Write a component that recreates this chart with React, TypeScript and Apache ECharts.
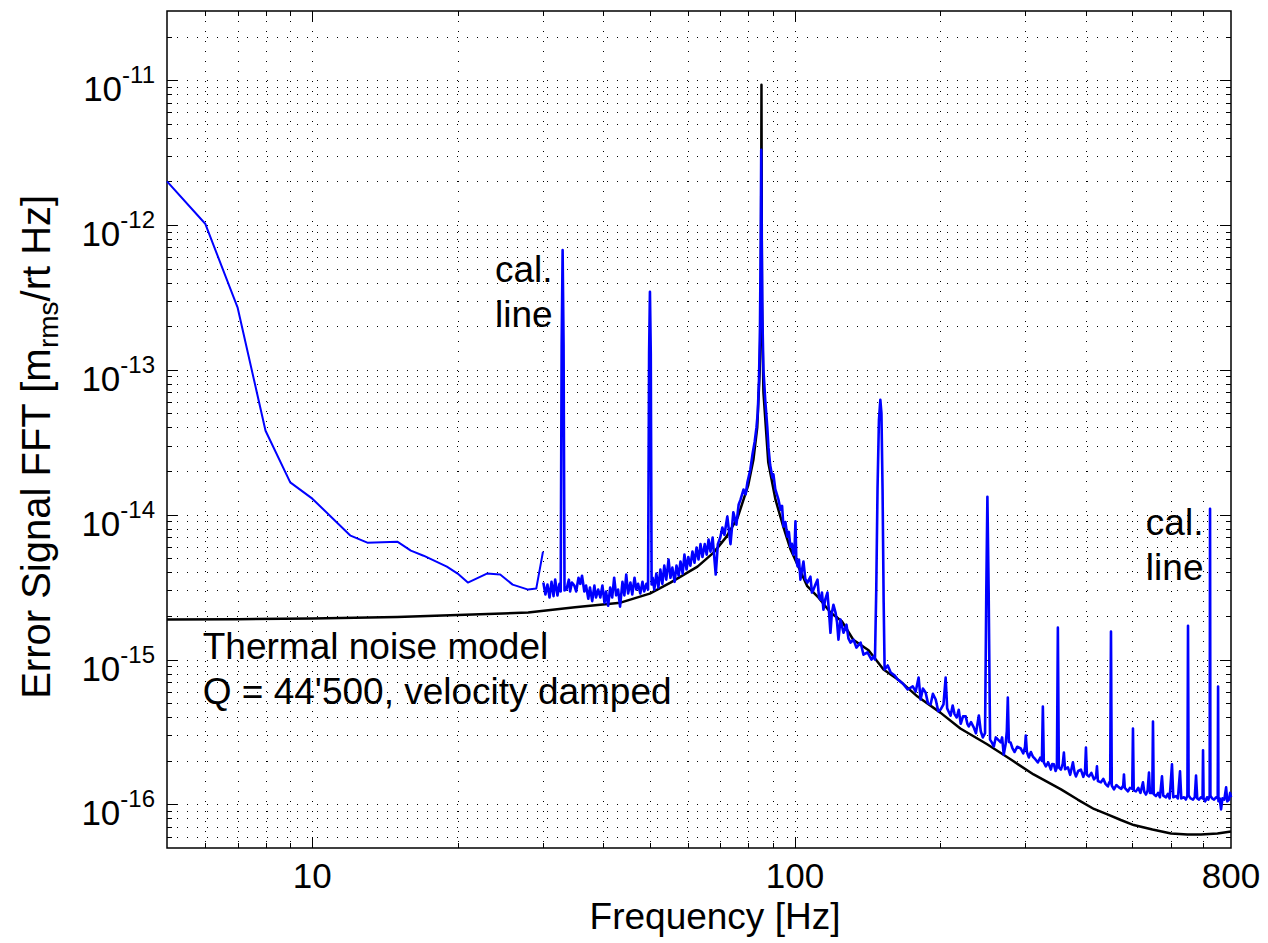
import React, { useEffect, useRef } from "react";
import * as echarts from "echarts";

// ---------- axis ranges & ticks ----------
const X_MIN = 5;
const X_MAX = 800;
const Y_MIN = 5e-17;
const Y_MAX = 3e-11;
// internal plotting unit (fm/rtHz) so that log-axis ticks keep their precision
const Y_UNIT = 1e15;

const xTickLabels = [10, 100, 800];
const gridX = [6, 7, 8, 9, 10, 20, 30, 40, 50, 60, 70, 80, 90, 100, 200, 300, 400, 500, 600, 700];
const majorX = [10, 100];
const gridY = [
  6e-17, 7e-17, 8e-17, 9e-17,
  1e-16, 2e-16, 3e-16, 4e-16, 5e-16, 6e-16, 7e-16, 8e-16, 9e-16,
  1e-15, 2e-15, 3e-15, 4e-15, 5e-15, 6e-15, 7e-15, 8e-15, 9e-15,
  1e-14, 2e-14, 3e-14, 4e-14, 5e-14, 6e-14, 7e-14, 8e-14, 9e-14,
  1e-13, 2e-13, 3e-13, 4e-13, 5e-13, 6e-13, 7e-13, 8e-13, 9e-13,
  1e-12, 2e-12, 3e-12, 4e-12, 5e-12, 6e-12, 7e-12, 8e-12, 9e-12,
  1e-11, 2e-11,
];
const majorY = [1e-16, 1e-15, 1e-14, 1e-13, 1e-12, 1e-11];

// ---------- measured data: [frequency Hz, amplitude m_rms/rtHz] ----------
const blueLowRes: [number, number][] = [
  [5, 2.0e-12], [6, 1.02e-12], [7, 2.7e-13], [8, 3.8e-14], [9, 1.67e-14],
  [10, 1.29e-14], [12, 7.16e-15], [13, 6.41e-15], [15, 6.51e-15], [16, 5.65e-15],
  [17, 5.21e-15], [19, 4.38e-15], [20, 3.92e-15], [21, 3.4e-15], [23, 3.92e-15],
  [24.5, 3.86e-15], [26, 3.29e-15], [28, 3.04e-15], [29.1, 3.09e-15], [30.05, 5.56e-15],
];

const blueHiResA: [number, number][] = [
  [30.1, 3.4e-15], [30.4, 2.81e-15], [30.7, 3.29e-15], [31.0, 2.68e-15], [31.3, 3.44e-15],
  [31.6, 2.74e-15], [31.85, 3.56e-15], [32.2, 2.77e-15], [32.5, 3.33e-15], [32.7, 2.95e-15],
  [32.85, 1.5e-13], [33.0, 6.7e-13], [33.15, 1.5e-13], [33.3, 3.0e-15], [33.6, 3.04e-15],
  [34.0, 3.56e-15], [34.2, 2.95e-15], [34.5, 3.4e-15], [34.9, 3.24e-15], [35.2, 2.95e-15],
  [35.6, 3.67e-15], [35.9, 3.33e-15], [36.2, 3.79e-15], [36.6, 2.95e-15], [36.9, 3.24e-15],
  [37.3, 2.63e-15], [37.6, 3.14e-15], [38.0, 2.53e-15], [38.4, 3.24e-15], [38.7, 2.68e-15],
  [39.1, 3.04e-15], [39.5, 2.68e-15], [39.9, 3.24e-15], [40.3, 2.46e-15], [40.6, 2.95e-15],
  [41.0, 2.35e-15], [41.4, 3.14e-15], [41.8, 2.68e-15], [42.2, 3.67e-15], [42.6, 2.77e-15],
  [43.0, 3.04e-15], [43.4, 2.32e-15], [43.9, 3.44e-15], [44.3, 2.77e-15], [44.7, 3.86e-15],
  [45.1, 2.86e-15], [45.6, 3.4e-15], [46.0, 2.81e-15], [46.5, 3.67e-15], [46.9, 3.04e-15],
  [47.3, 3.33e-15], [47.8, 2.86e-15], [48.3, 3.44e-15], [48.7, 2.95e-15], [49.2, 3.33e-15],
  [49.6, 3.04e-15], [49.85, 1.3e-13], [50.05, 3.46e-13], [50.25, 1.3e-13], [50.45, 3.3e-15],
  [50.7, 3.67e-15], [51.1, 3.04e-15], [51.6, 3.92e-15], [52.1, 3.14e-15], [52.6, 4.18e-15],
  [53.1, 3.33e-15], [53.6, 4.45e-15], [54.1, 3.56e-15], [54.7, 4.9e-15], [55.2, 3.67e-15],
  [55.7, 4.31e-15], [56.3, 3.44e-15], [56.8, 4.45e-15], [57.4, 3.79e-15], [57.9, 4.75e-15],
  [58.5, 3.92e-15], [59.0, 5.3e-15], [59.6, 4.18e-15], [60.1, 5.1e-15], [60.7, 4.45e-15],
  [61.3, 5.56e-15], [61.9, 4.66e-15], [62.5, 5.93e-15], [63.1, 4.9e-15], [63.7, 6.26e-15],
  [64.3, 5.1e-15], [65.0, 6.26e-15], [65.6, 5.3e-15], [66.2, 6.73e-15], [66.8, 5.56e-15],
  [67.5, 6.95e-15], [68.5, 3.86e-15], [69.2, 6.26e-15], [70.0, 6.95e-15], [70.7, 8.15e-15],
  [71.4, 7.26e-15], [72.4, 9.71e-15], [73.5, 6.26e-15], [74.5, 1.04e-14], [75.6, 8.53e-15],
  [76.4, 1.17e-14], [77.1, 1.27e-14], [78.2, 1.49e-14], [79.0, 1.38e-14], [79.7, 1.68e-14],
  [80.8, 2.05e-14], [81.6, 2.59e-14], [82.5, 3.2e-14], [83.2, 4.0e-14], [83.7, 5.05e-14],
  [84.2, 8.5e-14], [84.6, 2.0e-13], [84.9, 8.0e-13], [85.1, 3.3e-12],
];

const blueHiResB: [number, number][] = [
  [85.3, 8.0e-13], [85.6, 2.2e-13], [86.0, 1.0e-13], [86.8, 6.0e-14], [87.6, 4.0e-14],
  [88.1, 2.9e-14], [88.8, 2.2e-14], [89.8, 1.8e-14], [90.2, 1.9e-14], [91.0, 1.5e-14],
  [92.4, 1.27e-14], [93.3, 1.08e-14], [94.0, 1.15e-14], [94.6, 8.3e-15], [95.5, 8.9e-15],
  [96.4, 7.05e-15], [97.1, 7.6e-15], [97.8, 6.0e-15], [98.5, 6.3e-15], [99.2, 5.3e-15],
  [99.8, 6.0e-15], [100.2, 9.0e-15], [100.6, 4.9e-15], [101.2, 4.4e-15], [101.9, 4.9e-15],
  [102.6, 3.56e-15], [103.3, 4.1e-15], [104.1, 4.75e-15], [105.0, 3.6e-15], [106.1, 3.4e-15],
  [107.6, 3.73e-15], [108.4, 2.9e-15], [109.2, 3.04e-15], [110.2, 3.3e-15], [111.3, 3.56e-15],
  [112.1, 2.7e-15], [112.9, 2.59e-15], [113.7, 2.9e-15], [114.5, 2.21e-15], [115.5, 2.6e-15],
  [116.7, 2.9e-15], [117.5, 2.2e-15], [118.4, 1.53e-15], [119.2, 2.1e-15], [120.1, 2.39e-15],
  [121.3, 2.11e-15], [122.2, 1.8e-15], [123.0, 1.37e-15], [124.2, 1.89e-15], [126.0, 1.53e-15],
  [127.8, 1.74e-15], [129.0, 1.4e-15], [130.3, 1.31e-15], [132.2, 1.37e-15], [134.0, 1.21e-15],
  [136.7, 1.31e-15], [138.6, 1.08e-15], [141.3, 1.12e-15], [144.0, 1.0e-15], [145.4, 1.05e-15],
  [146.4, 1.0e-15], [147.3, 3.0e-15], [148.2, 1.5e-14], [149.2, 4.5e-14], [150.2, 6.2e-14],
  [151.0, 5.0e-14], [151.8, 1.5e-14], [152.6, 2.5e-15], [153.3, 8.53e-16], [155.6, 9.1e-16],
  [157.8, 8.13e-16], [160.9, 7.76e-16], [163.2, 7.28e-16], [167.2, 6.83e-16], [171.1, 6.21e-16],
  [175.3, 6.52e-16], [177.8, 6.01e-16], [180.3, 7.51e-16],
];

const blueHiResC: [number, number][] = [
  [182.0, 5.3e-16], [184.0, 6.3e-16], [186.4, 5.92e-16], [188.5, 5.0e-16], [190.9, 4.9e-16],
  [193.0, 5.8e-16], [195.6, 5.3e-16], [198.0, 4.4e-16], [200.3, 4.52e-16], [203.0, 4.9e-16],
  [205.1, 7.51e-16], [206.6, 4.6e-16], [208.0, 4.38e-16], [210.0, 4.1e-16], [212.1, 4.81e-16],
  [214.0, 4.2e-16], [216.2, 3.98e-16], [218.3, 4.5e-16], [220.4, 3.6e-16], [222.8, 4.05e-16],
  [225.7, 4.05e-16], [227.5, 3.6e-16], [229.0, 3.45e-16], [231.5, 3.7e-16], [234.5, 3.4e-16],
  [237.0, 3.1e-16], [240.3, 4.11e-16], [242.5, 3.2e-16], [244.9, 2.9e-16], [247.5, 3.1e-16],
  [249.0, 3.0e-15], [250.3, 1.33e-14], [251.8, 3.0e-15], [253.5, 2.8e-16], [255.6, 2.68e-16],
  [258.1, 2.51e-16], [260.5, 2.9e-16], [263.0, 2.81e-16], [266.8, 2.68e-16], [268.5, 2.9e-16],
  [270.6, 2.21e-16], [273.0, 2.6e-16], [274.6, 3.2e-16], [275.9, 5.47e-16], [277.3, 2.7e-16],
  [279.5, 2.68e-16], [282.0, 2.45e-16], [285.0, 2.3e-16], [288.5, 2.5e-16], [293.5, 2.43e-16],
  [297.0, 2.25e-16], [299.5, 2.5e-16], [300.6, 2.99e-16], [302.2, 2.3e-16], [305.0, 2.11e-16],
  [308.0, 2.3e-16], [310.9, 2.14e-16], [314.5, 2.05e-16], [318.4, 1.95e-16], [322.0, 2.1e-16],
  [324.6, 2.0e-16], [326.1, 4.74e-16], [327.6, 1.95e-16], [330.8, 1.83e-16], [334.5, 1.95e-16],
  [338.8, 1.74e-16], [341.0, 1.9e-16], [343.7, 1.89e-16], [346.5, 1.7e-16], [348.7, 1.8e-16],
  [350.3, 1.66e-15], [351.9, 1.8e-16], [355.4, 1.74e-16], [358.5, 1.9e-16], [360.5, 2.28e-16],
  [362.5, 1.75e-16], [367.5, 1.8e-16], [371.5, 1.6e-16], [376.4, 1.95e-16], [379.5, 1.65e-16],
  [381.8, 1.56e-16], [386.0, 1.7e-16], [391.0, 1.74e-16], [395.5, 1.55e-16], [398.8, 1.7e-16],
  [400.5, 2.47e-16], [402.3, 1.6e-16], [406.3, 1.56e-16], [411.0, 1.65e-16], [416.1, 1.49e-16],
  [420.3, 1.55e-16], [422.1, 1.83e-16], [424.0, 1.45e-16], [430.2, 1.42e-16], [435.0, 1.5e-16],
  [440.0, 1.38e-16], [444.8, 1.33e-16], [447.5, 1.42e-16], [449.6, 1.4e-16], [451.3, 1.56e-15],
  [453.0, 1.35e-16], [457.8, 1.27e-16], [463.0, 1.36e-16], [468.8, 1.31e-16], [474.0, 1.28e-16],
  [478.4, 1.35e-16], [480.1, 1.61e-16], [482.0, 1.3e-16], [489.4, 1.23e-16], [494.0, 1.3e-16],
  [499.5, 1.28e-16], [501.2, 3.34e-16], [503.0, 1.25e-16], [508.4, 1.23e-16], [514.0, 1.3e-16],
  [519.5, 1.2e-16], [525.7, 1.42e-16], [529.0, 1.22e-16], [533.3, 1.17e-16], [537.5, 1.25e-16],
  [541.0, 1.66e-16], [543.5, 1.2e-16], [549.6, 1.2e-16], [551.4, 3.73e-16], [553.3, 1.18e-16],
  [559.3, 1.14e-16], [565.0, 1.2e-16], [570.0, 1.12e-16], [575.6, 1.56e-16], [579.0, 1.15e-16],
  [586.7, 1.12e-16], [592.0, 1.18e-16], [597.0, 1.1e-16], [603.7, 1.89e-16], [607.5, 1.12e-16],
  [615.4, 1.14e-16], [621.0, 1.1e-16], [627.3, 1.69e-16], [631.0, 1.1e-16], [639.4, 1.12e-16],
  [645.0, 1.08e-16], [649.8, 1.15e-16], [651.7, 1.71e-15], [653.6, 1.15e-16], [660.0, 1.1e-16],
  [667.5, 1.08e-16], [673.0, 1.12e-16], [677.1, 1.58e-16], [681.0, 1.1e-16], [686.9, 1.08e-16],
  [693.0, 1.12e-16], [698.5, 1.1e-16], [700.1, 2.36e-16], [702.0, 1.1e-16], [707.5, 1.05e-16],
  [713.6, 1.12e-16], [718.0, 1.08e-16], [722.6, 1.15e-16], [723.9, 1.1e-14], [725.2, 1.15e-16],
  [731.0, 1.1e-16], [737.9, 1.08e-16], [745.0, 1.12e-16], [750.9, 1.1e-16], [752.2, 6.52e-16],
  [753.5, 1.05e-16], [758.0, 1.1e-16], [762.9, 9.24e-17], [768.0, 1.1e-16], [775.0, 1.08e-16],
  [781.5, 1.31e-16], [786.0, 1.05e-16], [792.8, 1.08e-16], [796.5, 1.2e-16], [800, 1.12e-16],
];

// thermal noise model (black)
const thermalModel: [number, number][] = [
  [5, 1.89e-15], [7, 1.9e-15], [10, 1.92e-15], [15, 1.97e-15], [20, 2.03e-15],
  [28, 2.11e-15], [35, 2.3e-15], [43.5, 2.47e-15], [50, 2.85e-15], [55.2, 3.4e-15],
  [62.8, 4.38e-15], [67.8, 5.47e-15], [72, 7.0e-15], [76, 9.5e-15], [80, 1.6e-14],
  [82, 2.4e-14], [83.5, 4.0e-14], [84.5, 1.0e-13], [85, 3.0e-13], [85.2, 9.3e-12],
  [85.4, 3.0e-13], [86, 7.0e-14], [88, 2.3e-14], [91.1, 1.27e-14], [94.6, 8.2e-15],
  [97.9, 5.74e-15], [106, 3.21e-15], [112, 2.66e-15], [118.4, 2.11e-15], [125, 1.84e-15],
  [132, 1.37e-15], [142, 1.16e-15], [152.5, 8.53e-16], [165, 7.1e-16], [179.4, 5.55e-16],
  [200, 4.3e-16], [220, 3.34e-16], [250, 2.6e-16], [280, 2.04e-16], [312, 1.61e-16],
  [355.6, 1.27e-16], [385, 1.08e-16], [416, 9.3e-17], [445, 8.5e-17], [473, 7.8e-17],
  [503, 7.2e-17], [550, 6.7e-17], [601, 6.3e-17], [650, 6.2e-17], [693, 6.2e-17],
  [750, 6.3e-17], [800, 6.5e-17],
];

// annotations: text anchored (top-left) at a data position
const annotationText = ["cal.\nline", "cal.\nline", "Thermal noise model\nQ = 44'500, velocity damped"];
const annotationFreq = [23.9, 533, 5.93];
const annotationAmp = [7.0e-13, 1.26e-14, 1.75e-15];

const FONT = "'Liberation Sans', Arial, Helvetica, sans-serif";

const toPlot = (pts: [number, number][]) => pts.map(([f, a]) => [f, a * Y_UNIT]);
const isIn = (list: number[], v: number) => list.some((m) => Math.abs(m - v) / m < 1e-6);

export default function App() {
  const ref = useRef<HTMLDivElement>(null);

  useEffect(() => {
    if (!ref.current) return;
    const chart = echarts.init(ref.current, null, { renderer: "svg" });

    const option: any = {
      animation: false,
      backgroundColor: "#fff",
      textStyle: { fontFamily: FONT, color: "#000" },
      grid: {
        left: 167,
        right: 37,
        top: 11,
        bottom: 95,
        show: true,
        borderColor: "#000",
        borderWidth: 1.5,
        backgroundColor: "transparent",
      },
      xAxis: {
        type: "log",
        logBase: 10,
        min: X_MIN,
        max: X_MAX,
        axisLine: { show: false },
        axisTick: { show: false },
        splitLine: { show: false },
        axisLabel: {
          showMinLabel: false,
          showMaxLabel: true,
          margin: 10,
          fontSize: 35,
          color: "#000",
          fontFamily: FONT,
          formatter: (v: number) => (isIn(xTickLabels, v) ? String(Math.round(v)) : ""),
        },
        name: "Frequency [Hz]",
        nameLocation: "middle",
        nameGap: 45,
        nameTextStyle: { fontSize: 37, color: "#000", fontFamily: FONT, padding: [0, 0, 0, 32] },
      },
      yAxis: {
        type: "log",
        logBase: 10,
        min: Y_MIN * Y_UNIT,
        max: Y_MAX * Y_UNIT,
        axisLine: { show: false },
        axisTick: { show: false },
        splitLine: { show: false },
        axisLabel: {
          showMinLabel: false,
          showMaxLabel: false,
          margin: 12,
          color: "#000",
          fontFamily: FONT,
          formatter: (v: number) => {
            const l = Math.log10(v);
            const e = Math.round(l);
            if (Math.abs(l - e) > 1e-6) return "";
            return "{b|10}{s|" + (e - 15) + "}";
          },
          rich: {
            b: { fontSize: 35, lineHeight: 35, padding: [17, 0, 0, 0], color: "#000", fontFamily: FONT },
            s: { fontSize: 24, lineHeight: 24, verticalAlign: "top", color: "#000", fontFamily: FONT },
          },
        },
        name: "{a|Error Signal FFT [m}{s|rms}{a|/rt Hz]}",
        nameLocation: "middle",
        nameRotate: 90,
        nameGap: 103,
        nameTextStyle: {
          color: "#000",
          fontFamily: FONT,
          padding: [0, 35, 0, 0],
          rich: {
            a: { fontSize: 40, lineHeight: 56, color: "#000", fontFamily: FONT },
            s: { fontSize: 28, lineHeight: 28, verticalAlign: "top", padding: [26, 0, 0, 0], color: "#000", fontFamily: FONT },
          },
        },
      },
      series: [
        {
          type: "custom",
          name: "gridX",
          z: 1,
          silent: true,
          clip: false,
          data: gridX.map((v) => [v, Y_MIN * Y_UNIT]),
          encode: { x: 0, y: 1 },
          renderItem: (params: any, api: any) => {
            const val = api.value(0);
            const pt = api.coord([val, Y_MIN * Y_UNIT]);
            const cs = params.coordSys;
            const x = Math.round(pt[0]) + 0.5;
            const top = cs.y;
            const bottom = cs.y + cs.height;
            const len = isIn(majorX, val) ? 11 : 5;
            return {
              type: "group",
              children: [
                { type: "line", shape: { x1: x, y1: top, x2: x, y2: bottom }, style: { stroke: "#000", lineWidth: 1, lineDash: [1, 9] } },
                { type: "line", shape: { x1: x, y1: bottom, x2: x, y2: bottom - len }, style: { stroke: "#000", lineWidth: 1 } },
                { type: "line", shape: { x1: x, y1: top, x2: x, y2: top + len }, style: { stroke: "#000", lineWidth: 1 } },
              ],
            };
          },
        },
        {
          type: "custom",
          name: "gridY",
          z: 1,
          silent: true,
          clip: false,
          data: gridY.map((v) => [X_MIN, v * Y_UNIT]),
          encode: { x: 0, y: 1 },
          renderItem: (params: any, api: any) => {
            const val = api.value(1);
            const pt = api.coord([X_MIN, val]);
            const cs = params.coordSys;
            const y = Math.round(pt[1]) + 0.5;
            const left = cs.x;
            const right = cs.x + cs.width;
            const len = isIn(majorY.map((m) => m * Y_UNIT), val) ? 11 : 5;
            return {
              type: "group",
              children: [
                { type: "line", shape: { x1: left, y1: y, x2: right, y2: y }, style: { stroke: "#000", lineWidth: 1, lineDash: [1, 9] } },
                { type: "line", shape: { x1: left, y1: y, x2: left + len, y2: y }, style: { stroke: "#000", lineWidth: 1 } },
                { type: "line", shape: { x1: right, y1: y, x2: right - len, y2: y }, style: { stroke: "#000", lineWidth: 1 } },
              ],
            };
          },
        },
        {
          type: "line",
          name: "Thermal noise model",
          z: 2,
          showSymbol: false,
          symbol: "none",
          data: toPlot(thermalModel),
          lineStyle: { color: "#000", width: 2.5, join: "round" },
        },
        {
          type: "line",
          name: "Error signal (low res)",
          z: 3,
          showSymbol: false,
          symbol: "none",
          data: toPlot(blueLowRes),
          lineStyle: { color: "#0000ff", width: 2, join: "round" },
        },
        {
          type: "line",
          name: "Error signal",
          z: 3,
          showSymbol: false,
          symbol: "none",
          data: toPlot([...blueHiResA, ...blueHiResB, ...blueHiResC]),
          lineStyle: { color: "#0000ff", width: 2.6, join: "round" },
        },
      ],
    };

    chart.setOption(option);

    // annotation texts, placed at their data positions through the axes
    const graphics = annotationText.map((t, i) => {
      const p = chart.convertToPixel({ gridIndex: 0 }, [annotationFreq[i], annotationAmp[i] * Y_UNIT]) as number[];
      return {
        type: "text",
        x: p[0],
        y: p[1],
        z: 10,
        silent: true,
        style: {
          text: t,
          fill: "#000",
          font: "37px " + FONT,
          fontSize: 37,
          fontFamily: FONT,
          lineHeight: 45,
          align: "left",
          verticalAlign: "top",
        },
      };
    });
    chart.setOption({ graphic: graphics });

    return () => chart.dispose();
  }, []);

  return (
    <div
      ref={ref}
      style={{ position: "absolute", left: 0, top: 0, width: "1268px", height: "943px", background: "#fff" }}
    />
  );
}
